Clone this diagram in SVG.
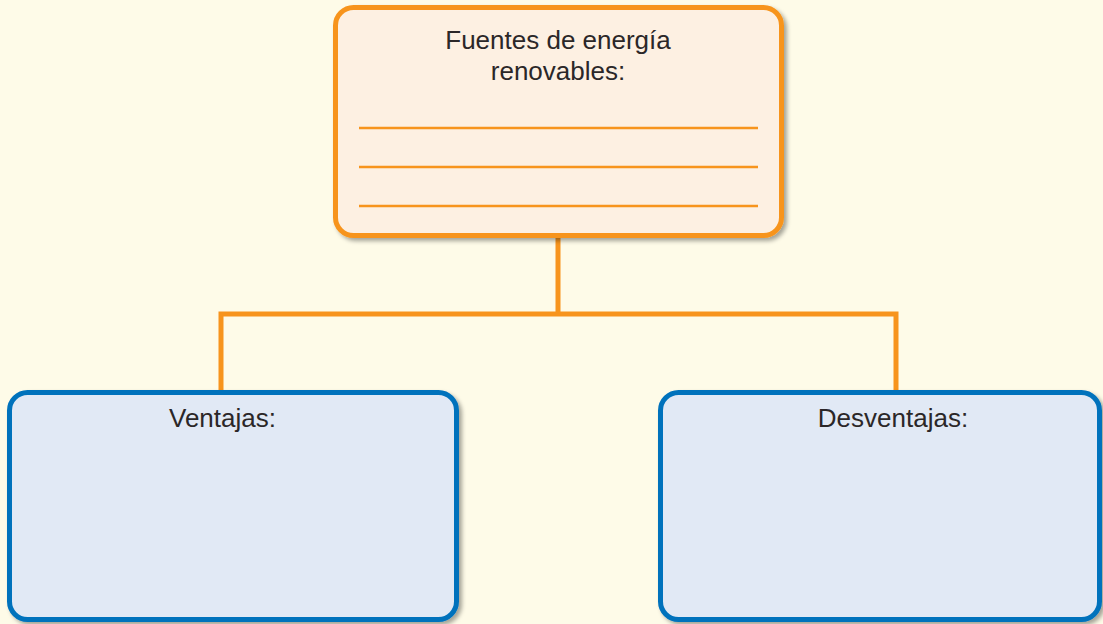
<svg xmlns="http://www.w3.org/2000/svg" width="1103" height="624" viewBox="0 0 1103 624">
  <defs>
    <filter id="sh" x="-5%" y="-5%" width="112%" height="115%">
      <feDropShadow dx="3" dy="3" stdDeviation="2" flood-color="#000" flood-opacity="0.35"/>
    </filter>
  </defs>
  <style>
    .txt { font-family: "Liberation Sans", Arial, sans-serif; font-size: 26px; fill: #2B2728; text-anchor: middle; }
    .obox { fill: #FDF0E2; stroke: #F7941D; stroke-width: 5; }
    .bbox { fill: #E1E9F5; stroke: #0072BC; stroke-width: 5; }
    .rule { stroke: #F7941D; stroke-width: 2.5; }
    .conn { fill: none; stroke: #F7941D; stroke-width: 5; }
  </style>
  <rect x="0" y="0" width="1103" height="624" fill="#FEFBE8"/>
  <g id="connectors">
    <path class="conn" d="M558 236 V314 M221 390 V314 H896 V390"/>
  </g>
  <g id="top">
    <rect class="obox" x="335.5" y="7.5" width="446" height="228" rx="18" filter="url(#sh)"/>
    <text class="txt" x="558" y="49">Fuentes de energía</text>
    <text class="txt" x="558" y="80">renovables:</text>
    <line class="rule" x1="359" y1="128" x2="758" y2="128"/>
    <line class="rule" x1="359" y1="167" x2="758" y2="167"/>
    <line class="rule" x1="359" y1="206" x2="758" y2="206"/>
  </g>
  <g id="ventajas">
    <rect class="bbox" x="9.5" y="392.5" width="447" height="227" rx="18" filter="url(#sh)"/>
    <text class="txt" x="222.5" y="427">Ventajas:</text>
  </g>
  <g id="desventajas">
    <rect class="bbox" x="660.5" y="392.5" width="439" height="227" rx="18" filter="url(#sh)"/>
    <text class="txt" x="893" y="427">Desventajas:</text>
  </g>
</svg>
